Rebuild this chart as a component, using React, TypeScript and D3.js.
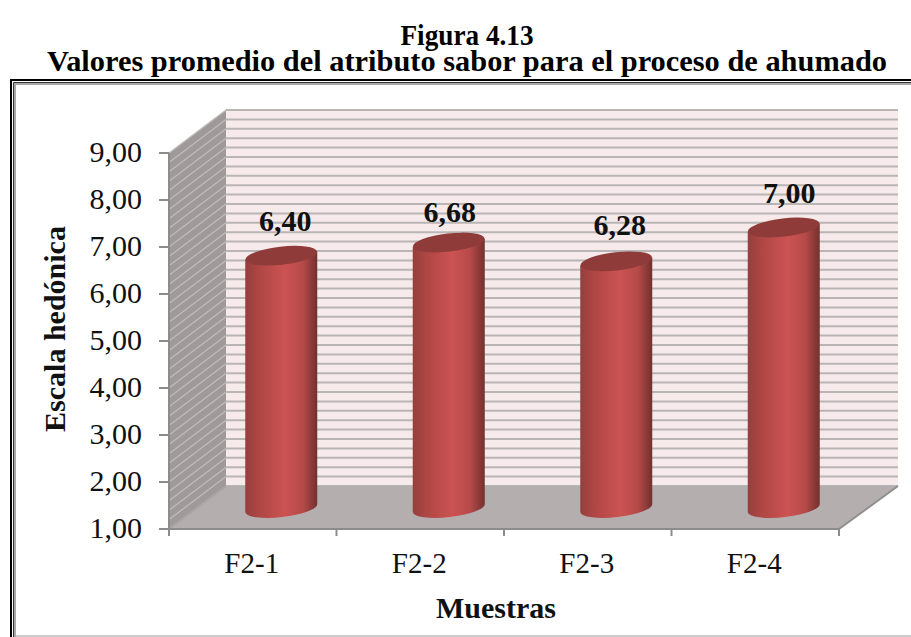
import React from "react";
import * as d3 from "d3";

const categories = ["F2-1", "F2-2", "F2-3", "F2-4"];
const values = [6.4, 6.68, 6.28, 7.0];
const valueLabels = ["6,40", "6,68", "6,28", "7,00"];
const titleLines = ["Figura 4.13", "Valores promedio del atributo sabor para el proceso de ahumado"];
const yTicks = [1, 2, 3, 4, 5, 6, 7, 8, 9];
const minorStep = 0.2;

const W = 911, H = 637;
const left = 169, right = 839, bottom = 529, top = 153;
const depthX = 57, depthY = -43;
const serif = "'Liberation Serif', 'Times New Roman', serif";

export default function App() {
  const y = d3.scaleLinear().domain([1, 9]).range([bottom, top]);
  const x = d3.scaleBand<string>().domain(categories).range([left, right]);
  const gridValues = d3.range(0, 41).map((i) => 1 + i * minorStep);
  const bw = 72, ry = 9.1;
  const fmt = (v: number) => d3.format(".2f")(v).replace(".", ",");
  const xEdges = [...categories.map((c) => x(c)!), right];
  const labelDx = [4, 1, 3.5, 5.5];
  const labelDy = [-24.6, -20.5, -26.5, -24.5];
  const wallPts = [
    [left, bottom], [left, top], [left + depthX, top + depthY], [left + depthX, bottom + depthY],
  ];
  const floorPts = [
    [left, bottom], [right, bottom], [right + depthX + 2, bottom + depthY], [left + depthX, bottom + depthY],
  ];
  const poly = (p: number[][]) => p.map((q) => q.join(",")).join(" ");
  return (
    <svg width={W} height={H} style={{ position: "absolute", left: 0, top: 0, background: "#fff" }}>
      <defs>
        <linearGradient id="cyl" x1="0" x2="1" y1="0" y2="0">
          <stop offset="0" stopColor="#953f3d" />
          <stop offset="0.18" stopColor="#ad4644" />
          <stop offset="0.55" stopColor="#cc5352" />
          <stop offset="0.8" stopColor="#b54a48" />
          <stop offset="1" stopColor="#73302f" />
        </linearGradient>
        <filter id="soft"><feGaussianBlur stdDeviation="0.5" /></filter>
      </defs>

      {titleLines.map((t, i) => (
        <text key={t} x={467} y={i === 0 ? 45 : 71} textAnchor="middle"
          fontFamily={serif} fontWeight="bold" fontSize={30} textLength={i === 1 ? 840 : 133}
          lengthAdjust="spacingAndGlyphs" fill="#000">{t}</text>
      ))}

      {/* frame */}
      <path d="M911 80H11V637" fill="none" stroke="#000" strokeWidth={2} />
      <path d="M911 82.5H13.5V637" fill="none" stroke="#333" strokeWidth={1} />
      <path d="M911 84H15V637" fill="none" stroke="#aaa" strokeWidth={2} />
      <path d="M16 636H911" stroke="#bbb" strokeWidth={1.5} />

      <g filter="url(#soft)">
        {/* back wall */}
        <rect x={left + depthX} y={top + depthY} width={right - left + 2} height={bottom - top}
          fill="#f6eaea" />
        {gridValues.map((v) => (
          <line key={v} x1={left + depthX} x2={right + depthX + 2}
            y1={y(v) + depthY} y2={y(v) + depthY} stroke="#b9b5b5" strokeWidth={2} />
        ))}
        {/* side wall */}
        <polygon points={poly(wallPts)} fill="#9f9999" />
        {gridValues.map((v) => (
          <line key={v} x1={left} x2={left + depthX} y1={y(v)} y2={y(v) + depthY}
            stroke="#c0bcbc" strokeWidth={1.3} />
        ))}
        {/* floor */}
        <polygon points={poly(floorPts)} fill="#b5aeae" />
        <path d={`M${left} ${bottom}L${left + depthX} ${bottom + depthY}`} stroke="#a9a5a5" strokeWidth={2} />
        <path d={`M${right} ${bottom}L${right + depthX + 2} ${bottom + depthY}`} stroke="#8f8f8f" strokeWidth={2} />
      </g>

      {/* axes */}
      <g stroke="#8c8c8c" strokeWidth={2} fill="none">
        <path d={`M${left} ${top}V${bottom + 7}`} />
        <path d={`M${left} ${bottom}H${right}`} />
        {yTicks.map((t) => <path key={t} d={`M${left - 10} ${y(t)}H${left}`} />)}
        {xEdges.map((e) => <path key={e} d={`M${e} ${bottom}V${bottom + 7}`} />)}
      </g>
      {yTicks.map((t) => (
        <text key={t} x={142} y={y(t) + 9} textAnchor="end" fontFamily={serif} fontSize={30} fill="#111">{fmt(t)}</text>
      ))}
      {categories.map((c) => (
        <text key={c} x={x(c)! + x.bandwidth() / 2 - 1} y={573} textAnchor="middle" fontFamily={serif} fontSize={29} fill="#111">{c}</text>
      ))}

      {/* cylinders */}
      {categories.map((c, i) => {
        const cx = x(c)! + x.bandwidth() / 2 + depthX / 2;
        const baseY = y(1) + depthY / 2 + 0.5;
        const topY = y(values[i]) + depthY / 2 + 2;
        const hw = bw / 2;
        const tilt = -6.5;
        const dy = hw * Math.tan((tilt * Math.PI) / 180);
        return (
          <g key={c}>
            <path
              d={`M${cx - hw} ${topY - dy}L${cx + hw} ${topY + dy}L${cx + hw} ${baseY + dy}A${hw} ${ry} ${tilt} 0 1 ${cx - hw} ${baseY - dy}Z`}
              fill="url(#cyl)" />
            <ellipse cx={cx} cy={topY} rx={hw} ry={ry} transform={`rotate(${tilt} ${cx} ${topY})`} fill="#8e3b39" />
            <text x={cx + labelDx[i]} y={topY + labelDy[i]} textAnchor="middle" fontFamily={serif} fontWeight="bold" fontSize={30} fill="#111">
              {valueLabels[i]}
            </text>
          </g>
        );
      })}

      <text transform="translate(65,329) rotate(-90)" textAnchor="middle" fontFamily={serif} fontWeight="bold" fontSize={30} fill="#111">Escala hedónica</text>
      <text x={496} y={618} textAnchor="middle" fontFamily={serif} fontWeight="bold" fontSize={30} fill="#111">Muestras</text>
    </svg>
  );
}
